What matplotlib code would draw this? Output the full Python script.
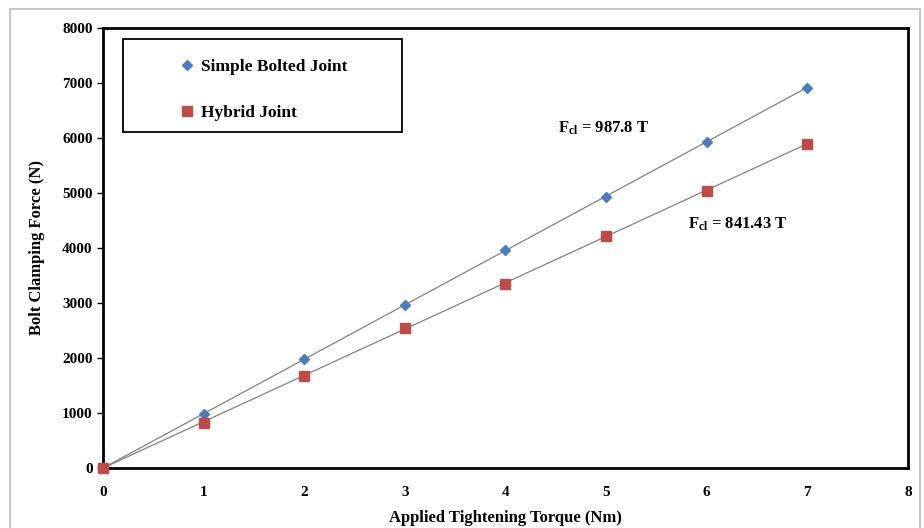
"""
Bolt clamping force vs applied tightening torque.
"""

import numpy as np
import matplotlib
matplotlib.use("Agg")
import matplotlib.pyplot as plt
from matplotlib.patches import Rectangle

#%%

torque = [0, 1, 2, 3, 4, 5, 6, 7]
simple_force = [0, 985, 1985, 2960, 3955, 4925, 5925, 6900]
hybrid_force = [0, 825, 1680, 2540, 3350, 4215, 5040, 5880]
simple_slope = 987.8
hybrid_slope = 841.43
x_ticks = [0, 1, 2, 3, 4, 5, 6, 7, 8]
y_ticks = [0, 1000, 2000, 3000, 4000, 5000, 6000, 7000, 8000]

#%%

plt.rcParams["font.family"] = ["Liberation Serif", "DejaVu Serif"]
plt.rcParams["font.weight"] = "bold"
plt.rcParams["mathtext.fontset"] = "custom"
plt.rcParams["mathtext.rm"] = "Liberation Serif:bold"
plt.rcParams["mathtext.bf"] = "Liberation Serif:bold"
plt.rcParams["mathtext.it"] = "Liberation Serif:bold"

fig = plt.figure(figsize=(9.24, 5.28), dpi=100)
ax = fig.add_axes([0.1115, 0.1136, 0.871, 0.834])

# outer light border like the pasted excel chart
fig.patches.append(Rectangle((0.011, -0.02), 0.985, 1.003, transform=fig.transFigure,
                             fill=False, edgecolor="#c8c8c8", linewidth=1.5))

t = np.array(torque, dtype=float)
ax.plot(t, simple_slope * t, color="#808080", linewidth=0.9, zorder=1)
ax.plot(t, hybrid_slope * t, color="#808080", linewidth=0.9, zorder=1)
ax.plot(torque, simple_force, "D", color="#4a7ebb", markersize=5.5,
        linestyle="none", label="Simple Bolted Joint", zorder=3, clip_on=False)
ax.plot(torque, hybrid_force, "s", color="#be4b48", markersize=7,
        linestyle="none", label="Hybrid Joint", zorder=3, clip_on=False)

ax.set_xlim(0, 8)
ax.set_ylim(0, 8000)
ax.set_xticks(x_ticks)
ax.set_yticks(y_ticks)
ax.tick_params(axis="both", labelsize=11, length=4, width=1, direction="out")
ax.tick_params(axis="x", length=0, pad=13)
for s in ax.spines.values():
    s.set_linewidth(2)

ax.set_xlabel("Applied Tightening Torque (Nm)", fontsize=12, fontweight="bold", labelpad=8)
ax.set_ylabel("Bolt Clamping Force (N)", fontsize=12, fontweight="bold", labelpad=12)

ax.text(4.52, 6180, r"F$_{\mathrm{cl}}$ = 987.8 T", fontsize=12, fontweight="bold",
        va="center", ha="left")
ax.text(5.81, 4420, r"F$_{\mathrm{cl}}$ = 841.43 T", fontsize=12, fontweight="bold",
        va="center", ha="left")

ax.add_patch(Rectangle((0.025, 0.764), 0.346, 0.211, transform=ax.transAxes,
                       fill=False, edgecolor="black", linewidth=1.3, zorder=4))
ax.legend(loc="upper left", bbox_to_anchor=(0.076, 0.965), frameon=False,
          labelspacing=1.75, handlelength=0.8, handletextpad=0.4,
          prop={"weight": "bold", "size": 12.5})

plt.savefig("out.png", dpi=100)
